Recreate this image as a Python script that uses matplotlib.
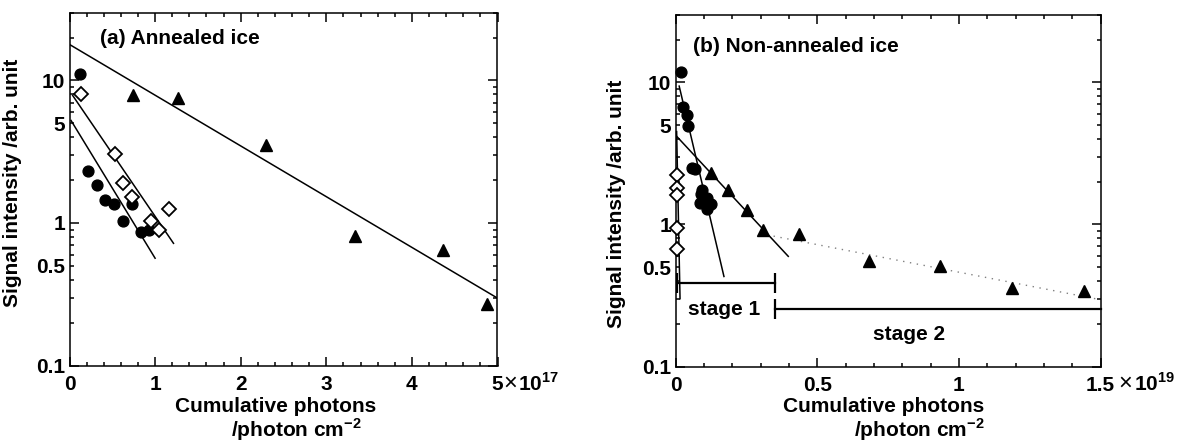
import matplotlib
matplotlib.use('Agg')
import matplotlib.pyplot as plt
from matplotlib.ticker import FixedLocator, FuncFormatter, NullFormatter

plt.rcParams['font.family'] = ['Liberation Sans', 'DejaVu Sans']
plt.rcParams['font.weight'] = 'bold'
plt.rcParams['mathtext.fontset'] = 'custom'
plt.rcParams['mathtext.rm'] = 'Liberation Sans:bold'
plt.rcParams['mathtext.bf'] = 'Liberation Sans:bold'

# ---------------- Panel (a): annealed ice (x in 1e17 photon cm^-2) ----------------
a_circle_x = [0.123, 0.213, 0.318, 0.415, 0.524, 0.735, 0.622, 0.833, 0.934]
a_circle_y = [11.1, 2.33, 1.85, 1.46, 1.35, 1.35, 1.03, 0.86, 0.90]
a_diamond_x = [0.131, 0.532, 0.630, 0.735, 0.950, 1.051, 1.164]
a_diamond_y = [8.07, 3.03, 1.90, 1.52, 1.04, 0.90, 1.26]
a_tri_x = [0.747, 1.273, 2.296, 3.333, 4.367, 4.882]
a_tri_y = [7.9, 7.5, 3.5, 0.81, 0.65, 0.27]
a_fit_tri_x = [0.0, 5.0]
a_fit_tri_y = [17.9, 0.297]
a_fit_dia_x = [0.037, 1.215]
a_fit_dia_y = [7.85, 0.72]
a_fit_cir_x = [0.018, 1.0]
a_fit_cir_y = [5.24, 0.566]

# ---------------- Panel (b): non-annealed ice (x in 1e19 photon cm^-2) ----------------
b_circle_x = [0.018, 0.025, 0.040, 0.045, 0.057, 0.070, 0.092, 0.089, 0.110, 0.127, 0.086, 0.110]
b_circle_y = [11.9, 6.67, 5.9, 4.9, 2.5, 2.45, 1.75, 1.63, 1.53, 1.39, 1.41, 1.28]
b_diamond_x = [0.006, 0.006, 0.006, 0.006, 0.006]
b_diamond_y = [2.21, 1.80, 1.60, 0.95, 0.67]
b_tri_x = [0.125, 0.186, 0.251, 0.310, 0.437, 0.684, 0.934, 1.187, 1.440]
b_tri_y = [2.30, 1.76, 1.27, 0.92, 0.86, 0.55, 0.51, 0.356, 0.34]
b_fit_cir_x = [0.013, 0.171]
b_fit_cir_y = [9.4, 0.43]
b_fit_dia_x = [0.004, 0.016]
b_fit_dia_y = [4.5, 0.30]
b_fit_tri1_x = [0.004, 0.398]
b_fit_tri1_y = [4.17, 0.596]
b_fit_tri2_x = [0.322, 1.5]
b_fit_tri2_y = [0.845, 0.295]
stage1_x = [0.005, 0.35]
stage1_y = 0.386
stage2_x = [0.35, 1.5]
stage2_y = 0.255

y_major = [0.1, 1, 10]
y_minor = [0.2, 0.3, 0.4, 0.5, 0.6, 0.7, 0.8, 0.9, 2, 3, 4, 5, 6, 7, 8, 9, 20, 30]
y_minor_labels = {0.5: '0.5', 5.0: '5'}

W, H = 1189, 445
fig = plt.figure(figsize=(W / 100, H / 100), dpi=100)
ax_a = fig.add_axes([69.5 / W, 1 - 365.5 / H, 428.0 / W, 353.0 / H])
ax_b = fig.add_axes([675.5 / W, 1 - 366.5 / H, 425.0 / W, 352.0 / H])

FS = 15
LW = 1.1


def minor_fmt(v, p):
    for k, s in y_minor_labels.items():
        if abs(v - k) < 1e-6:
            return s
    return ''


def style_axes(ax, xmax, xmajor, xminor_step):
    ax.set_yscale('log')
    ax.set_ylim(0.1, 30)
    ax.set_xlim(0, xmax)
    ax.yaxis.set_major_locator(FixedLocator(y_major))
    ax.yaxis.set_minor_locator(FixedLocator(y_minor))
    ax.yaxis.set_major_formatter(FuncFormatter(lambda v, p: ('%g' % v)))
    ax.yaxis.set_minor_formatter(FuncFormatter(minor_fmt))
    ax.xaxis.set_major_locator(FixedLocator(xmajor))
    n = int(round(xmax / xminor_step))
    ax.xaxis.set_minor_locator(FixedLocator([i * xminor_step for i in range(n + 1)]))
    ax.xaxis.set_minor_formatter(NullFormatter())
    ax.tick_params(which='both', direction='in', top=True, right=True, width=LW)
    ax.tick_params(which='major', length=6.5)
    ax.tick_params(which='minor', length=3.2)
    ax.tick_params(axis='x', which='both', pad=7, labelsize=FS)
    ax.tick_params(axis='y', which='both', pad=3, labelsize=FS)
    for s in ax.spines.values():
        s.set_linewidth(LW)
    ax.set_ylabel('Signal intensity /arb. unit', fontsize=FS, fontweight='bold')


# ---- Panel a ----
style_axes(ax_a, 5, [0, 1, 2, 3, 4, 5], 0.2)
ax_a.set_xticklabels(['0', '1', '2', '3', '4', '5'])
ax_a.yaxis.set_label_coords(-0.112, 0.517)
ax_a.plot(a_fit_tri_x, a_fit_tri_y, color='black', lw=1.1)
ax_a.plot(a_fit_dia_x, a_fit_dia_y, color='black', lw=1.1)
ax_a.plot(a_fit_cir_x, a_fit_cir_y, color='black', lw=1.1)
ax_a.plot(a_circle_x, a_circle_y, 'o', color='black', ms=7.8, zorder=3, clip_on=False)
ax_a.plot(a_diamond_x, a_diamond_y, 'D', mfc='white', mec='black', mew=1.3, ms=7.5, zorder=4, clip_on=False)
ax_a.plot(a_tri_x, a_tri_y, '^', color='black', ms=9, zorder=3, clip_on=False)
ax_a.text(0.0714, 0.926, '(a) Annealed ice', transform=ax_a.transAxes,
          fontsize=FS, fontweight='bold', va='center', ha='left')

# ---- Panel b ----
style_axes(ax_b, 1.5, [0, 0.5, 1, 1.5], 0.1)
ax_b.set_xticklabels(['0', '0.5', '1', '1.5'])
ax_b.yaxis.set_label_coords(-0.117, 0.463)
ax_b.plot(b_fit_cir_x, b_fit_cir_y, color='black', lw=1.1)
ax_b.plot(b_fit_dia_x, b_fit_dia_y, color='black', lw=1.1, clip_on=False)
ax_b.plot(b_fit_tri1_x, b_fit_tri1_y, color='black', lw=1.1)
ax_b.plot(b_fit_tri2_x, b_fit_tri2_y, color='0.5', lw=1.0, ls=(0, (1, 4)))
ax_b.plot(b_circle_x, b_circle_y, 'o', color='black', ms=7.8, zorder=3, clip_on=False)
ax_b.plot(b_diamond_x, b_diamond_y, 'D', mfc='white', mec='black', mew=1.3, ms=7.0, zorder=4, clip_on=False)
ax_b.plot(b_tri_x, b_tri_y, '^', color='black', ms=9, zorder=3, clip_on=False)
# stage bars
ax_b.plot(stage1_x, [stage1_y, stage1_y], color='black', lw=1.6)
ax_b.plot(stage1_x, [stage1_y, stage1_y], '|', color='black', ms=14, mew=1.6)
ax_b.plot(stage2_x, [stage2_y, stage2_y], color='black', lw=1.6, clip_on=False)
ax_b.plot([stage2_x[0]], [stage2_y], '|', color='black', ms=14, mew=1.6)
ax_b.text(0.17, 0.251, 'stage 1', fontsize=FS, fontweight='bold', ha='center', va='center')
ax_b.text(0.826, 0.167, 'stage 2', fontsize=FS, fontweight='bold', ha='center', va='center')
ax_b.text(0.0406, 0.909, '(b) Non-annealed ice', transform=ax_b.transAxes,
          fontsize=FS, fontweight='bold', va='center', ha='left')


def ftext(px, py, s, **kw):
    fig.text(px / W, 1 - py / H, s, **kw)


for cx1, cx2 in [(276, 296), (884, 919)]:
    ftext(cx1, 412, 'Cumulative photons', fontsize=FS, fontweight='bold', ha='center', va='baseline')
    ftext(cx2, 437, r'/photon cm$^{-2}$', fontsize=FS, fontweight='bold', ha='center', va='baseline')

ftext(503, 384, '×', fontsize=17, fontweight='normal', ha='left', va='center')
ftext(518, 391, r'10$^{17}$', fontsize=FS, fontweight='bold', ha='left', va='baseline')
ftext(1118, 384, '×', fontsize=17, fontweight='normal', ha='left', va='center')
ftext(1134, 391, r'10$^{19}$', fontsize=FS, fontweight='bold', ha='left', va='baseline')

fig.savefig('out.png', dpi=100)
